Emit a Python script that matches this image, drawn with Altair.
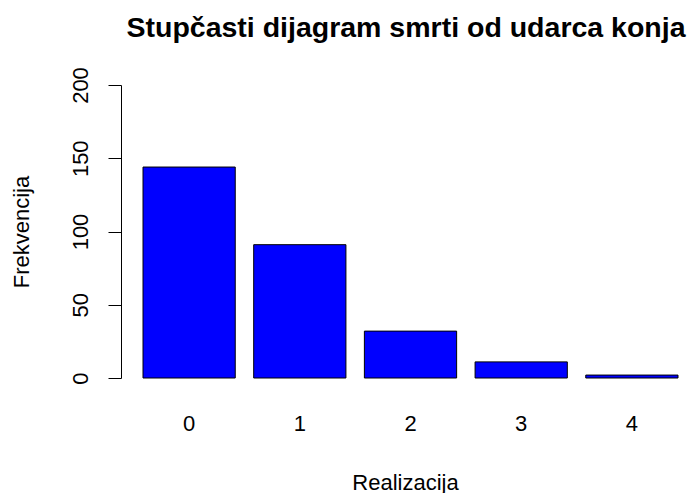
import altair as alt
import pandas as pd

categories = ["0", "1", "2", "3", "4"]
counts = [144, 91, 32, 11, 2]
y_ticks = [0, 50, 100, 150, 200]

df = pd.DataFrame({"Realizacija": categories, "Frekvencija": counts})

FONT = "Liberation Sans"

chart = alt.Chart(
    df,
    title=alt.Title(
        "Stupčasti dijagram smrti od udarca konja",
        font=FONT, fontSize=28.5, fontWeight="bold", color="black",
        anchor="middle", frame="group", baseline="alphabetic", offset=1, dx=1,
    ),
).mark_bar(color="#0000FF", stroke="black", strokeWidth=1).encode(
    x=alt.X(
        "Realizacija:N", sort=categories,
        scale=alt.Scale(paddingInner=0.1667, paddingOuter=0.149, align=0.667),
        axis=alt.Axis(
            title="Realizacija", labelAngle=0, domain=False, ticks=False, tickSize=0,
            labelPadding=52, labelBaseline="alphabetic", labelFontSize=22,
            labelFont=FONT, labelColor="black",
            titleFont=FONT, titleFontSize=22, titleFontWeight="normal",
            titleColor="black", titleBaseline="alphabetic", titleY=111,
        ),
    ),
    y=alt.Y(
        "Frekvencija:Q",
        scale=alt.Scale(domain=[0, 200], nice=False),
        axis=alt.Axis(
            values=y_ticks, grid=False, domainColor="black", tickColor="black",
            tickSize=13, domainWidth=1, tickWidth=1,
            labelAngle=270, labelAlign="center", labelBaseline="alphabetic",
            labelPadding=21, labelFontSize=22, labelFont=FONT, labelColor="black",
            title="Frekvencija", titleFont=FONT, titleFontSize=22,
            titleFontWeight="normal", titleColor="black", titleAngle=270,
            titleAlign="center", titleBaseline="alphabetic", titleX=-93, titleY=146.5,
        ),
    ),
).properties(
    width=568, height=293,
    background="white",
    autosize=alt.AutoSizeParams(type="none"),
    padding={"left": 113, "top": 77, "right": 0, "bottom": 115},
).configure_view(stroke="transparent", strokeWidth=0)

chart.save("out.html", embed_options={"renderer": "svg", "actions": False})
